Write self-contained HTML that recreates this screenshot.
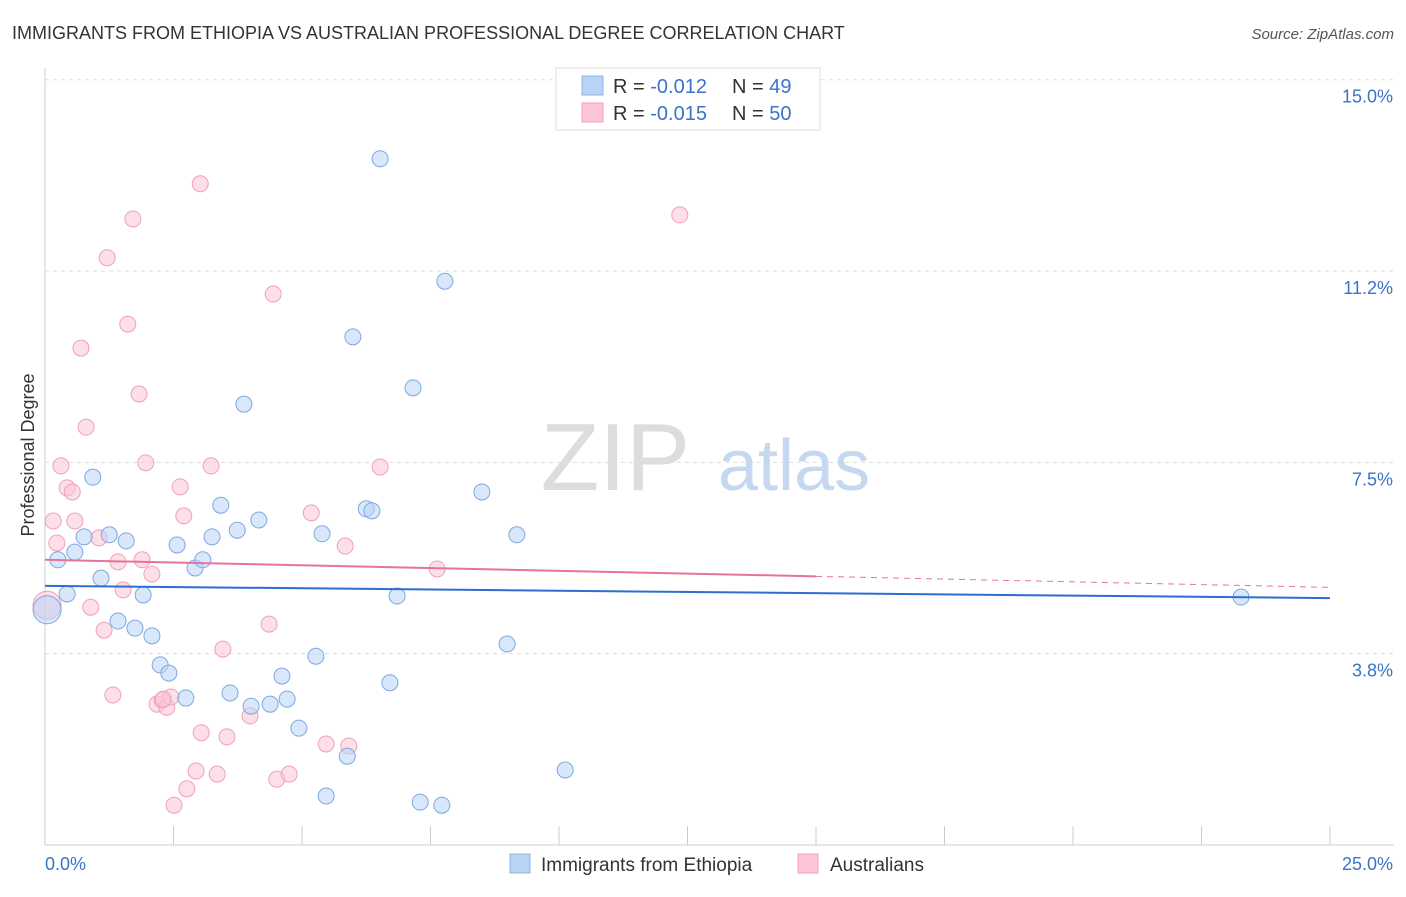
<!DOCTYPE html>
<html><head><meta charset="utf-8"><style>
body{margin:0;background:#fff;font-family:"Liberation Sans",sans-serif;}
svg text{font-family:"Liberation Sans",sans-serif;}
</style></head><body>
<svg id="chart" width="1406" height="892" viewBox="0 0 1406 892">
<text x="12" y="39" font-size="18" fill="#333">IMMIGRANTS FROM ETHIOPIA VS AUSTRALIAN PROFESSIONAL DEGREE CORRELATION CHART</text>
<text x="1394" y="39" font-size="15" fill="#555" font-style="italic" text-anchor="end">Source: ZipAtlas.com</text>
<g id="grid"></g>
<text x="690" y="490" font-size="96" fill="#ddd" font-family="Liberation Serif" text-anchor="end">ZIP</text>
<text x="718" y="490" font-size="72" fill="#c5d8f0">atlas</text>
<text transform="translate(34,455) rotate(-90)" font-size="18" fill="#333" text-anchor="middle">Professional Degree</text>
<g id="marks"></g>
<g>
<rect x="556" y="68" width="264" height="62" fill="#fff" stroke="#ddd"/>
<rect x="582" y="76" width="21" height="19" fill="#b9d3f5" stroke="#8fb5e8"/>
<rect x="582" y="103" width="21" height="19" fill="#fcc5d6" stroke="#f0a0bb"/>
<text x="613" y="93" font-size="20" fill="#333">R = <tspan fill="#3b73c9">-0.012</tspan><tspan x="732">N = </tspan><tspan fill="#3b73c9">49</tspan></text>
<text x="613" y="120" font-size="20" fill="#333">R = <tspan fill="#3b73c9">-0.015</tspan><tspan x="732">N = </tspan><tspan fill="#3b73c9">50</tspan></text>
</g>
<g>
<rect x="510" y="854" width="20" height="19" fill="#b9d3f5" stroke="#8fb5e8"/>
<text x="541" y="871" font-size="19" fill="#333">Immigrants from Ethiopia</text>
<rect x="798" y="854" width="20" height="19" fill="#fcc5d6" stroke="#f0a0bb"/>
<text x="830" y="871" font-size="19" fill="#333">Australians</text>
</g>
</svg>
<script>
const xTicks=[0,2.5,5,7.5,10,12.5,15,17.5,20,22.5,25];
const yTicks=[3.75,7.5,11.25,15];
const yTickLabels=["3.8%","7.5%","11.2%","15.0%"];
const xEndLabels=["0.0%","25.0%"];
const bluePx=[[58,560],[67,594],[75,552],[84,537],[93,477],[101,578],[109,535],[118,621],[126,541],[135,628],[143,595],[152,636],[160,665],[169,673],[177,545],[186,698],[195,568],[203,560],[212,537],[221,505],[230,693],[237,530],[244,404],[251,706],[259,520],[270,704],[282,676],[287,699],[299,728],[316,656],[322,534],[326,796],[347,756],[353,337],[366,509],[372,511],[380,159],[390,683],[397,596],[413,388],[420,802],[442,805],[445,281],[482,492],[507,644],[517,535],[565,770],[1241,597],[47,610]];
const pinkPx=[[53,521],[57,543],[61,466],[67,488],[72,492],[75,521],[81,348],[86,427],[91,607],[99,538],[104,630],[107,258],[113,695],[118,562],[123,590],[128,324],[133,219],[139,394],[142,560],[146,463],[152,574],[157,704],[162,700],[167,707],[171,697],[174,805],[180,487],[184,516],[187,789],[196,771],[200,184],[201,733],[211,466],[217,774],[223,649],[227,737],[250,716],[269,624],[273,294],[277,779],[289,774],[311,513],[326,744],[345,546],[349,746],[380,467],[437,569],[680,215],[163,699],[47,605]];
// data values (percent)
const blueX=bluePx.map(p=>+((p[0]-45)/51.4).toFixed(2));
const blueY=bluePx.map(p=>+((845-p[1])/51.02).toFixed(2));
const pinkX=pinkPx.map(p=>+((p[0]-45)/51.4).toFixed(2));
const pinkY=pinkPx.map(p=>+((845-p[1])/51.02).toFixed(2));
const blueTrend=[5.08,4.84];
const pinkTrend=[5.59,5.05];
const X=v=>45+v*51.4, Y=v=>845-v*51.02;
const NS="http://www.w3.org/2000/svg";
function mk(t,a,p){const e=document.createElementNS(NS,t);for(const k in a)e.setAttribute(k,a[k]);p.appendChild(e);return e;}
const grid=document.getElementById('grid'),marks=document.getElementById('marks');
let ax=mk('line',{x1:45,y1:68,x2:45,y2:845,stroke:'#ccc'},grid);

let bx=mk('line',{x1:45,y1:845,x2:1394,y2:845,stroke:'#ccc'},grid);

yTicks.forEach((v,i)=>{
 const g=mk('line',{x1:45,y1:Y(v),x2:1394,y2:Y(v),stroke:'#ddd','stroke-dasharray':'4,4'},grid);
 
 const t=mk('text',{x:1393,y:Y(v)+23,'font-size':18,fill:'#3b73c9','text-anchor':'end'},grid);t.textContent=yTickLabels[i];
 
});
xTicks.forEach(v=>{const l=mk('line',{x1:X(v),y1:826,x2:X(v),y2:845,stroke:'#ccc'},grid);
 });
const t0=mk('text',{x:45,y:870,'font-size':18,fill:'#3b73c9'},grid);t0.textContent=xEndLabels[0];

const t1=mk('text',{x:1393,y:870,'font-size':18,fill:'#3b73c9','text-anchor':'end'},grid);t1.textContent=xEndLabels[1];

function dots(xs,ys,fill,stroke,name){xs.forEach((x,i)=>{
 const big=(i===xs.length-1);
 const c=mk('circle',{cx:X(x),cy:Y(ys[i]),r:big?14:8,fill:fill,'fill-opacity':0.55,stroke:stroke,'stroke-width':1},marks);
 });}
dots(pinkX,pinkY,'#fcc5d6','#f0a0bb','australians-point');
dots(blueX,blueY,'#b9d3f5','#7ea8e0','ethiopia-point');
const bl=mk('line',{x1:X(0),y1:Y(blueTrend[0]),x2:X(25),y2:Y(blueTrend[1]),stroke:'#2b6fd1','stroke-width':2},marks);

const pm=v=>pinkTrend[0]+(pinkTrend[1]-pinkTrend[0])*v/25;
const pl=mk('line',{x1:X(0),y1:Y(pm(0)),x2:X(15),y2:Y(pm(15)),stroke:'#e8739a','stroke-width':2},marks);

const pd=mk('line',{x1:X(15),y1:Y(pm(15)),x2:X(25),y2:Y(pm(25)),stroke:'#e8739a','stroke-width':1,'stroke-dasharray':'6,5'},marks);

</script>
</body></html>
